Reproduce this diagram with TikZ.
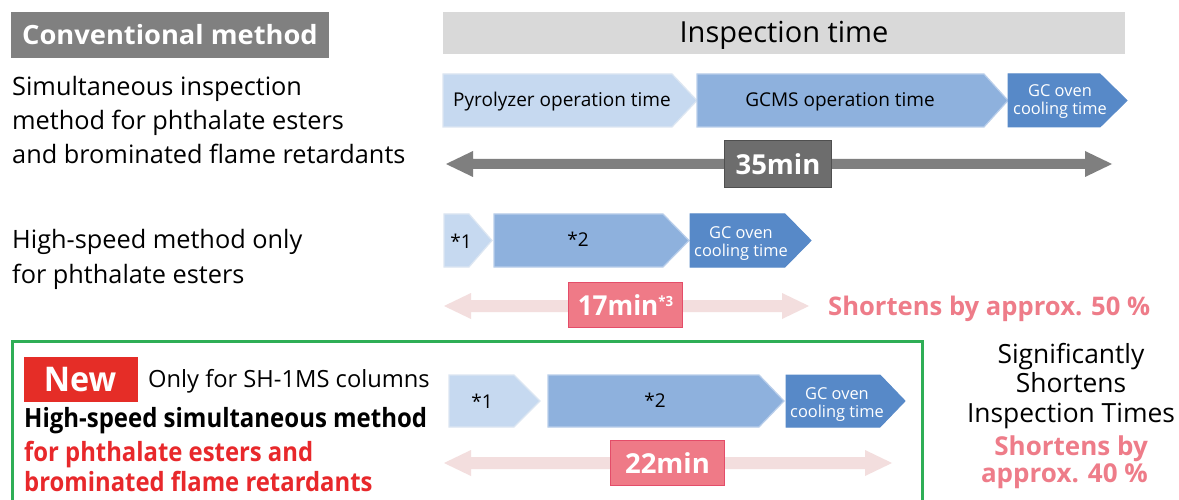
\documentclass[tikz,border=0pt]{standalone}
\usepackage{fontspec}
\setmainfont{Open Sans}
\usepackage{graphicx}
\definecolor{grayBox}{HTML}{808080}
\definecolor{hdr}{HTML}{D9D9D9}
\definecolor{cA}{HTML}{C6D9F0}
\definecolor{cAb}{HTML}{DCE6F2}
\definecolor{cB}{HTML}{8EB1DD}
\definecolor{cBb}{HTML}{B9CEEA}
\definecolor{cC}{HTML}{5789C8}
\definecolor{arrGray}{HTML}{7F7F7F}
\definecolor{minGray}{HTML}{6D6D6D}
\definecolor{minGrayB}{HTML}{4F4F4F}
\definecolor{pinkArr}{HTML}{F3DEDE}
\definecolor{pinkBox}{HTML}{EF7A87}
\definecolor{pinkBoxB}{HTML}{E44D69}
\definecolor{pinkTxt}{HTML}{EE7C89}
\definecolor{redNew}{HTML}{E52D27}
\definecolor{redTxt}{HTML}{E8282B}
\definecolor{greenBox}{HTML}{2FAE56}
\newcommand{\cnd}[2][0.9]{\scalebox{#1}[1]{#2}}
\newcommand{\fs}[2]{\fontsize{#2}{#1}\selectfont}
\newcommand{\chev}[6]{\path[#6] (#1,#4) -- (#2,#4) -- (#3,{(#4+#5)/2}) -- (#2,#5) -- (#1,#5) -- cycle;}
\newcommand{\darrow}[6]{\path[#4] (#1,#3) -- ({#1+27},{#3-13}) -- ({#1+27},{#3-#5}) -- ({#2-27},{#3-#5}) -- ({#2-27},{#3-13}) -- (#2,#3) -- ({#2-27},{#3+13}) -- ({#2-27},{#3+#5}) -- ({#1+27},{#3+#5}) -- ({#1+27},{#3+13}) -- cycle;}
\tikzset{
  chevA/.style={fill=cA, draw=cAb, line width=1.2pt},
  chevB/.style={fill=cB, draw=cBb, line width=1.2pt},
  chevC/.style={fill=cC, draw=cC, line width=1pt},
  txt/.style={inner sep=0pt, anchor=base west},
  ctxt/.style={inner sep=0pt, anchor=base},
  chtxt/.style={inner sep=0pt, anchor=base, font=\fs{20}{19}},
  gcoven/.style={inner sep=0pt, anchor=base, text=white, align=center, font=\fs{18}{16.4}},
  minbox/.style={line width=1.2pt, inner sep=0pt, text=white, font=\bfseries\fs{30}{27.5}},
}
\begin{document}
\begin{tikzpicture}[x=1pt,y=-1pt]
\useasboundingbox (0,0) rectangle (1179,500);
\fill[white] (0,0) rectangle (1179,500);
% header boxes
\fill[grayBox] (11,12) rectangle (329,58);
\node[ctxt, text=white, font=\bfseries\fs{30}{26.5}] (conv) at (170,45) {\cnd[1.03]{Conventional method}};
\fill[hdr] (443,12) rectangle (1125,54);
\node[ctxt, font=\fs{30}{29}] (insp) at (784,43) {Inspection time};
% row 1 labels
\node[txt, font=\fs{34}{25.3}, align=left] (lab1) at (12,164) {Simultaneous inspection\\method for phthalate esters\\and brominated flame retardants};
% row 1 chevrons
\chev{443}{672}{697}{74}{127}{chevA}
\chev{697}{984}{1008}{74}{127}{chevB}
\chev{1008}{1100}{1127}{74}{127}{chevC}
\node[chtxt] (pyro) at (562,107) {Pyrolyzer operation time};
\node[chtxt] (gcms) at (840,107) {GCMS operation time};
\node[gcoven] (gc1) at (1060,115) {GC oven\\cooling time};
% 35 min arrow
\darrow{446}{1112}{164}{fill=arrGray}{5}{}
\node[minbox, draw=minGrayB, fill=minGray, minimum width=107pt, minimum height=47pt] (m35) at (778,164) {35min};
% row 2 labels
\node[txt, font=\fs{35}{25.3}, align=left] (lab2) at (12,283) {High-speed method only\\for phthalate esters};
% row 2 chevrons
\chev{444}{469}{492}{214}{267}{chevA}
\chev{494}{663}{689}{214}{267}{chevB}
\chev{690}{785}{811}{214}{267}{chevC}
\node[chtxt] (s1a) at (461,248) {*1};
\node[chtxt] (s2a) at (578,246) {*2};
\node[gcoven] (gc2) at (741,256) {GC oven\\cooling time};
% 17 min arrow
\darrow{444}{809}{306}{fill=pinkArr}{6}{}
\node[minbox, draw=pinkBoxB, fill=pinkBox, minimum width=114pt, minimum height=45pt] (m17) at (625.5,305) {\cnd[0.95]{17min\raisebox{9pt}{\fs{16}{14}*3}}};
\node[txt, text=pinkTxt, font=\bfseries\fs{28}{25.6}] (sh50) at (828,315) {Shortens by approx. 50 \%};
% green box
\draw[greenBox, line width=3pt] (12.5,510) -- (12.5,341) -- (922,341) -- (922,510);
\fill[redNew] (24,357) rectangle (138,402);
\node[ctxt, text=white, font=\bfseries\fs{34}{34}] (new) at (80,391) {\cnd[0.95]{New}};
\node[txt, font=\fs{26}{23.7}] (only) at (148,387) {Only for SH-1MS columns};
\node[txt, font=\bfseries\fs{30}{26.5}] (hs) at (24,427) {\cnd[0.905]{High-speed simultaneous method}};
\node[txt, text=redTxt, font=\bfseries\fs{30}{26.5}] (for1) at (24,461) {\cnd[0.9]{for phthalate esters and}};
\node[txt, text=redTxt, font=\bfseries\fs{30}{26.5}] (for2) at (24,491) {\cnd[0.9]{brominated flame retardants}};
% row 3 chevrons
\chev{449}{514}{540}{375}{427}{chevA}
\chev{548}{759}{784}{375}{427}{chevB}
\chev{786}{880}{905}{375}{427}{chevC}
\node[chtxt] (s1b) at (482,408) {*1};
\node[chtxt] (s2b) at (655,407) {*2};
\node[gcoven] (gc3) at (837,417) {GC oven\\cooling time};
% 22 min arrow
\darrow{444}{892}{463}{fill=pinkArr}{6}{}
\node[minbox, draw=pinkBoxB, fill=pinkBox, minimum width=114pt, minimum height=45pt] (m22) at (667.5,463) {22min};
% right texts
\node[ctxt, font=\fs{29.5}{26.4}, align=center] (sig) at (1071,422) {Significantly\\Shortens\\Inspection Times};
\node[inner sep=0pt, anchor=base east, text=pinkTxt, font=\bfseries\fs{24.5}{26}, align=right] (sh40) at (1148,482) {Shortens by\\approx. 40 \%};
\end{tikzpicture}
\end{document}
